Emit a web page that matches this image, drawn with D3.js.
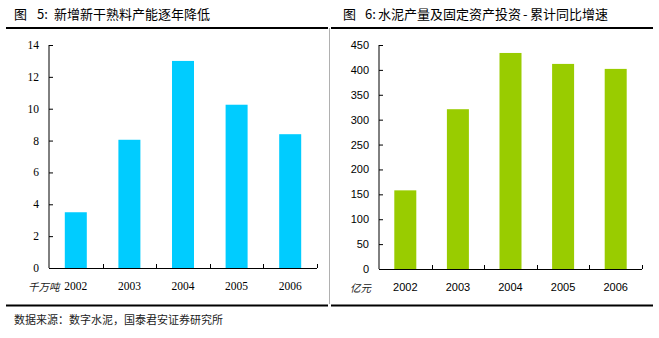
<!DOCTYPE html>
<html lang="zh">
<head>
<meta charset="UTF-8">
<title>熟料产能与水泥投资</title>
<script src="https://d3js.org/d3.v7.min.js"></script>
<style>
  body { margin: 0; background: #fff; }
  svg text { fill: #000; }
</style>
</head>
<body>
<div id="chart"></div>
<script>
// years on both charts
var years = ["2002", "2003", "2004", "2005", "2006"];
// new clinker capacity, 千万吨
var clinker = [3.5, 8.05, 13.0, 10.25, 8.4];
// cement output & fixed asset investment, 亿元
var invest = [158, 321, 434, 412, 402];
var clinkerTicks = [0, 2, 4, 6, 8, 10, 12, 14];
var investTicks = [0, 50, 100, 150, 200, 250, 300, 350, 400, 450];

var svg = d3.select("#chart").append("svg")
    .attr("width", 659).attr("height", 338);

var cjk = "'Noto Sans CJK SC', sans-serif";

// chart titles: "图", number, caption placed as separate runs
function title(parts, xs) {
  var t = svg.append("text").attr("y", 19)
      .style("font-family", cjk).style("font-size", "13px").style("font-weight", "400");
  parts.forEach(function(p, i) {
    t.append("tspan").attr("x", xs[i]).text(p);
  });
}
title(["图", "5:", "新增新干熟料产能逐年降低"], [14, 37, 54]);
title(["图", "6:", "水泥产量及固定资产投资", "-", "累计同比增速"], [343, 365, 378, 523, 530]);

// frame lines
svg.append("line").attr("x1", 6).attr("x2", 328).attr("y1", 28).attr("y2", 28)
    .attr("stroke", "#000").attr("stroke-width", 2);
svg.append("line").attr("x1", 331).attr("x2", 653).attr("y1", 28).attr("y2", 28)
    .attr("stroke", "#000").attr("stroke-width", 2);
svg.append("line").attr("x1", 6).attr("x2", 328).attr("y1", 305.5).attr("y2", 305.5)
    .attr("stroke", "#000").attr("stroke-width", 2);
svg.append("line").attr("x1", 331).attr("x2", 653).attr("y1", 305.5).attr("y2", 305.5)
    .attr("stroke", "#000").attr("stroke-width", 2);
svg.append("line").attr("x1", 329.5).attr("x2", 329.5).attr("y1", 28).attr("y2", 304)
    .attr("stroke", "#b0b0b0").attr("stroke-width", 1);

svg.append("text").attr("x", 14).attr("y", 324)
    .style("font-family", cjk).style("font-size", "11px").style("fill", "#222")
    .text("数据来源：数字水泥，国泰君安证券研究所");

function drawBars(opt) {
  var x = d3.scaleBand().domain(years).range([opt.left, opt.right]);
  var y = d3.scaleLinear().domain([0, opt.max]).range([opt.bottom, opt.top]);
  var g = svg.append("g");
  var bw = 22;

  g.selectAll("rect.bar").data(opt.values).enter().append("rect")
      .attr("class", "bar")
      .attr("x", function(d, i) { return x(years[i]) + x.bandwidth() / 2 - bw / 2; })
      .attr("y", function(d) { return y(d); })
      .attr("width", bw)
      .attr("height", function(d) { return opt.bottom - y(d); })
      .attr("fill", opt.color);

  // y axis, ticks pointing inward
  var ya = g.append("g").attr("transform", "translate(" + opt.left + ",0)")
      .call(d3.axisRight(y).tickValues(opt.ticks).tickSize(4).tickFormat(""));
  ya.select(".domain").attr("d", "M0," + opt.top + "V" + opt.bottom);
  g.selectAll("text.ytick").data(opt.ticks).enter().append("text")
      .attr("class", "ytick")
      .attr("x", opt.left - 10).attr("y", function(d) { return y(d) + 4; })
      .attr("text-anchor", "end")
      .style("font-family", opt.font).style("font-size", opt.fontSize)
      .text(function(d) { return d; });

  // x axis with ticks at band edges pointing up
  g.append("line").attr("x1", opt.left).attr("x2", opt.right)
      .attr("y1", opt.bottom + 0.5).attr("y2", opt.bottom + 0.5).attr("stroke", "#000");
  g.selectAll("line.xt").data(years).enter().append("line")
      .attr("class", "xt")
      .attr("x1", function(d) { return Math.round(x(d) + x.bandwidth()) + 0.5; })
      .attr("x2", function(d) { return Math.round(x(d) + x.bandwidth()) + 0.5; })
      .attr("y1", opt.bottom).attr("y2", opt.bottom - 4).attr("stroke", "#000");
  g.selectAll("text.xl").data(years).enter().append("text")
      .attr("class", "xl")
      .attr("x", function(d) { return x(d) + x.bandwidth() / 2; })
      .attr("y", opt.bottom + 22)
      .attr("text-anchor", "middle")
      .style("font-family", opt.font).style("font-size", opt.fontSize)
      .text(function(d) { return d; });

  g.append("text").attr("x", opt.unitX).attr("y", opt.bottom + 23)
      .style("font-family", cjk).style("font-size", "10.5px").style("font-style", "italic")
      .style("fill", "#222")
      .text(opt.unit);
}

drawBars({ values: clinker, ticks: clinkerTicks, max: 14, left: 49, right: 317,
  top: 45, bottom: 268, color: "#00ccff", font: "'Liberation Serif', serif",
  fontSize: "11.5px", unit: "千万吨", unitX: 28 });

drawBars({ values: invest, ticks: investTicks, max: 450, left: 379, right: 642,
  top: 45, bottom: 269, color: "#99cc00", font: "'Liberation Sans', sans-serif",
  fontSize: "11px", unit: "亿元", unitX: 350 });
</script>
</body>
</html>
